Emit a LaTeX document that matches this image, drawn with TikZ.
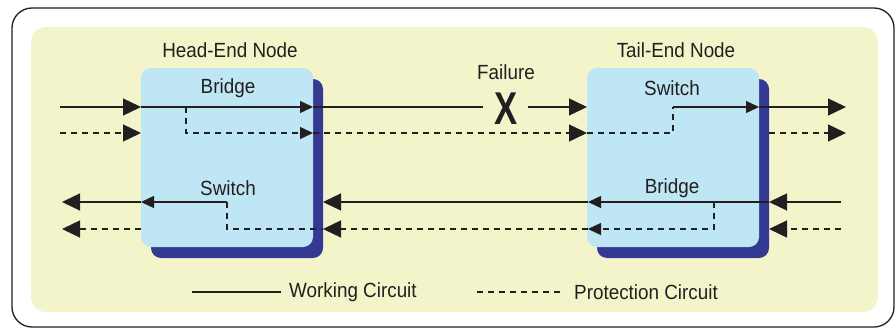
\documentclass[tikz,border=0pt]{standalone}
\usepackage{fontspec}
\setmainfont{Liberation Sans}[FakeStretch=0.92]
\usetikzlibrary{arrows.meta,shadows}
\definecolor{ink}{HTML}{231F20}
\definecolor{paper}{HTML}{F4F4CB}
\definecolor{boxfill}{HTML}{BFE6F4}
\definecolor{boxshade}{HTML}{343A94}
\tikzset{
  x=1pt, y=-1pt,
  frame/.style={draw=ink, line width=1.3pt, rounded corners=20pt},
  netnode/.style={fill=boxfill, rounded corners=10pt, minimum width=172pt, minimum height=179pt,
    drop shadow={shadow xshift=10pt, shadow yshift=-11pt, fill=boxshade, opacity=1}},
  lbl/.style={text=ink, font=\fontsize{20.5}{22}\selectfont, inner sep=0pt},
  work/.style={draw=ink, line width=1.3pt},
  prot/.style={draw=ink, line width=1.3pt, dash pattern=on 6pt off 5pt},
  bigtip/.style={-{Triangle[length=18pt,width=17pt]}},
  smalltip/.style={-{Triangle[length=13pt,width=12pt]}},
}
\begin{document}
\begin{tikzpicture}
\useasboundingbox (0,0) rectangle (896,329);
% outer frame and yellow panel
\draw[frame] (12,8) rectangle (894,327);
\fill[paper, rounded corners=15pt] (31,27) rectangle (878,312);

% the two network elements
\node[netnode] (head) at (227,157.5) {};
\node[netnode] (tail) at (673,157.5) {};

% titles and labels
\node[lbl] (headt) at (230,50) {Head-End Node};
\node[lbl] (tailt) at (676,50) {Tail-End Node};
\node[lbl] (hbridge) at (228,88) {Bridge};
\node[lbl] (tswitch) at (672,88) {Switch};
\node[lbl] (hswitch) at (228,188) {Switch};
\node[lbl] (tbridge) at (672,188) {Bridge};
\node[lbl] (fail) at (506,72) {Failure};
\node[lbl, font=\bfseries\fontsize{46}{46}\selectfont] (x) at (506,109) {\scalebox{0.82}[1]{X}};

% row positions
\coordinate (w1in) at (60,107);   \coordinate (p1in) at (60,133);
\coordinate (hW1) at (141,107);   \coordinate (hE1) at (313,107);
\coordinate (hW2) at (141,133);   \coordinate (hE2) at (313,133);
\coordinate (br1) at (186,107);   \coordinate (br2) at (186,133);
\coordinate (cutL) at (483,107);  \coordinate (cutR) at (528,107);
\coordinate (tW1) at (587,107);   \coordinate (tE1) at (759,107);
\coordinate (tW2) at (587,133);
\coordinate (sw1) at (673,107);   \coordinate (sw2) at (673,133);
\coordinate (tS2) at (769,133);
\coordinate (w1out) at (846,107); \coordinate (p1out) at (846,133);

\coordinate (w3in) at (841,202);  \coordinate (p4in) at (841,229);
\coordinate (tS3) at (769,202);   \coordinate (tS4) at (769,229);
\coordinate (tW3) at (588,202);   \coordinate (tW4) at (588,229);
\coordinate (tb3) at (714,202);   \coordinate (tb4) at (714,229);
\coordinate (hS3) at (323,202);   \coordinate (hS4) at (323,229);
\coordinate (hs3) at (227,202);   \coordinate (hs4) at (227,229);
\coordinate (hW3) at (141,202);   \coordinate (hW4) at (141,229);
\coordinate (w3out) at (62,202);  \coordinate (p4out) at (62,229);

% forward direction: working circuit
\draw[work, bigtip] (w1in) -- (hW1);
\draw[work, smalltip] (hW1) -- (hE1);
\draw[work] (hE1) -- (cutL);
\draw[work, bigtip] (cutR) -- (tW1);
\draw[work, smalltip] (sw1) -- (tE1);
\draw[work, bigtip] (tE1) -- (w1out);
% forward direction: protection circuit
\draw[prot, bigtip] (p1in) -- (hW2);
\draw[prot, smalltip] (br1) -- (br2) -- (hE2);
\draw[prot, bigtip] (hE2) -- (tW2);
\draw[prot] (tW2) -- (sw2) -- (sw1);
\draw[prot, bigtip] (tS2) -- (p1out);

% reverse direction: working circuit
\draw[work, bigtip] (w3in) -- (tS3);
\draw[work, smalltip] (tS3) -- (tW3);
\draw[work, bigtip] (tW3) -- (hS3);
\draw[work, smalltip] (hs3) -- (hW3);
\draw[work, bigtip] (hW3) -- (w3out);
% reverse direction: protection circuit
\draw[prot, bigtip] (p4in) -- (tS4);
\draw[prot, smalltip] (tb3) -- (tb4) -- (tW4);
\draw[prot, bigtip] (tW4) -- (hS4);
\draw[prot] (hs3) -- (hs4) -- (hS4);
\draw[prot, bigtip] (hW4) -- (p4out);

% legend
\coordinate (lw1) at (192,292); \coordinate (lw2) at (281,292);
\coordinate (lp1) at (477,292); \coordinate (lp2) at (564,292);
\draw[work] (lw1) -- (lw2);
\node[lbl, anchor=west] (lwt) at (289,292) {Working Circuit};
\draw[prot] (lp1) -- (lp2);
\node[lbl, anchor=west] (lpt) at (574,292) {Protection Circuit};
\end{tikzpicture}
\end{document}
